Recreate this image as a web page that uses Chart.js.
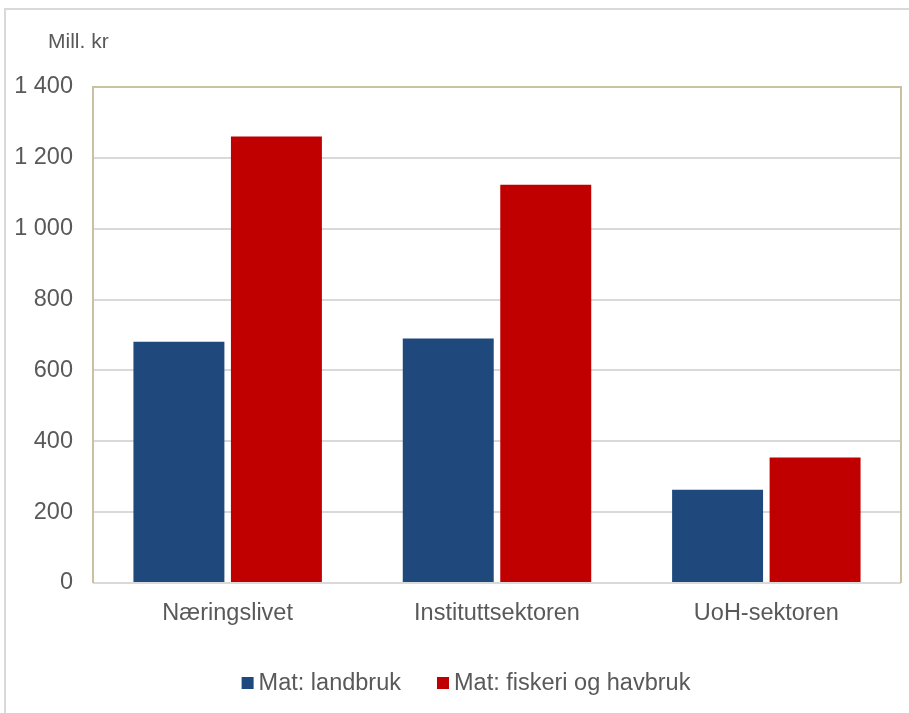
<!DOCTYPE html>
<html>
<head>
<meta charset="utf-8">
<script src="https://cdn.jsdelivr.net/npm/chart.js@4/dist/chart.umd.min.js"></script>
<style>
  html, body { margin: 0; padding: 0; background: #fff; }
  #wrap { position: relative; width: 909px; height: 713px; }
</style>
</head>
<body>
<div id="wrap"><canvas id="chart" width="909" height="713"></canvas></div>
<script>
// Sector labels and R&D spending (mill. kr)
const sectors = ['Næringslivet', 'Instituttsektoren', 'UoH-sektoren'];
const landbruk = [681, 690, 263];
const fiskeri = [1260, 1124, 354];
const seriesNames = ['Mat: landbruk', 'Mat: fiskeri og havbruk'];
const yTicks = [0, 200, 400, 600, 800, 1000, 1200, 1400];

const FONT = "'Liberation Sans', Arial, sans-serif";
const TEXT = '#595959';
const FSIZE = 23.5;

// Outer box edge, tan plot border, unit label and a compact legend
const framePlugin = {
    id: 'frame',
    beforeDraw(chart) {
        const ctx = chart.ctx;
        ctx.save();
        ctx.strokeStyle = '#D9D9D9';
        ctx.lineWidth = 2;
        ctx.beginPath();
        ctx.moveTo(5, 713);
        ctx.lineTo(5, 9);
        ctx.lineTo(909, 9);
        ctx.stroke();
        ctx.fillStyle = TEXT;
        ctx.font = '21px ' + FONT;
        ctx.textBaseline = 'middle';
        ctx.fillText('Mill. kr', 48, 42);
        ctx.restore();
    },
    afterDatasetsDraw(chart) {
        const a = chart.chartArea;
        const ctx = chart.ctx;
        ctx.save();
        // left, top and right edges are tan; the bottom is the zero gridline
        ctx.strokeStyle = '#C9C19F';
        ctx.lineWidth = 2;
        ctx.beginPath();
        ctx.moveTo(a.left, a.bottom);
        ctx.lineTo(a.left, a.top);
        ctx.lineTo(a.right, a.top);
        ctx.lineTo(a.right, a.bottom);
        ctx.stroke();
        ctx.strokeStyle = '#D9D9D9';
        ctx.beginPath();
        ctx.moveTo(a.left + 1, a.bottom);
        ctx.lineTo(a.right - 1, a.bottom);
        ctx.stroke();

        // legend: small square, short gap, label
        const box = 12, gap = 5, spacing = 36, cy = 683;
        ctx.font = FSIZE + 'px ' + FONT;
        ctx.textBaseline = 'middle';
        const ds = chart.data.datasets;
        const widths = ds.map(d => ctx.measureText(d.label).width);
        let total = 0;
        widths.forEach((w, i) => { total += box + gap + w + (i ? spacing : 0); });
        let x = 466 - total / 2;
        ds.forEach((d, i) => {
            ctx.fillStyle = d.backgroundColor;
            ctx.fillRect(x, cy - box / 2, box, box);
            ctx.fillStyle = TEXT;
            ctx.fillText(d.label, x + box + gap, cy + 1);
            x += box + gap + widths[i] + spacing;
        });
        ctx.restore();
    }
};

new Chart(document.getElementById('chart'), {
    type: 'bar',
    data: {
        labels: sectors,
        datasets: [
            { label: seriesNames[0], data: landbruk, backgroundColor: '#1F497D' },
            { label: seriesNames[1], data: fiskeri, backgroundColor: '#C00000' }
        ]
    },
    options: {
        responsive: false,
        animation: false,
        devicePixelRatio: 1,
        layout: { padding: { left: 0, right: 8, top: 87, bottom: 70 } },
        datasets: { bar: { categoryPercentage: 0.724, barPercentage: 0.933 } },
        plugins: {
            tooltip: { enabled: false },
            legend: { display: false }
        },
        scales: {
            x: {
                grid: { display: false },
                border: { display: false },
                ticks: { color: TEXT, font: { family: FONT, size: FSIZE }, padding: 8 },
                afterFit: s => { s.height = 60; }
            },
            y: {
                min: 0,
                max: 1400,
                afterBuildTicks: s => { s.ticks = yTicks.map(v => ({ value: v })); },
                grid: { color: '#D9D9D9', lineWidth: 2, drawTicks: false },
                border: { display: false },
                ticks: {
                    color: TEXT,
                    font: { family: FONT, size: FSIZE },
                    padding: 20,
                    callback: v => String(v).replace(/\B(?=(\d{3})+(?!\d))/g, ' ')
                },
                afterFit: s => { s.width = 93; }
            }
        }
    },
    plugins: [framePlugin]
});
</script>
</body>
</html>
